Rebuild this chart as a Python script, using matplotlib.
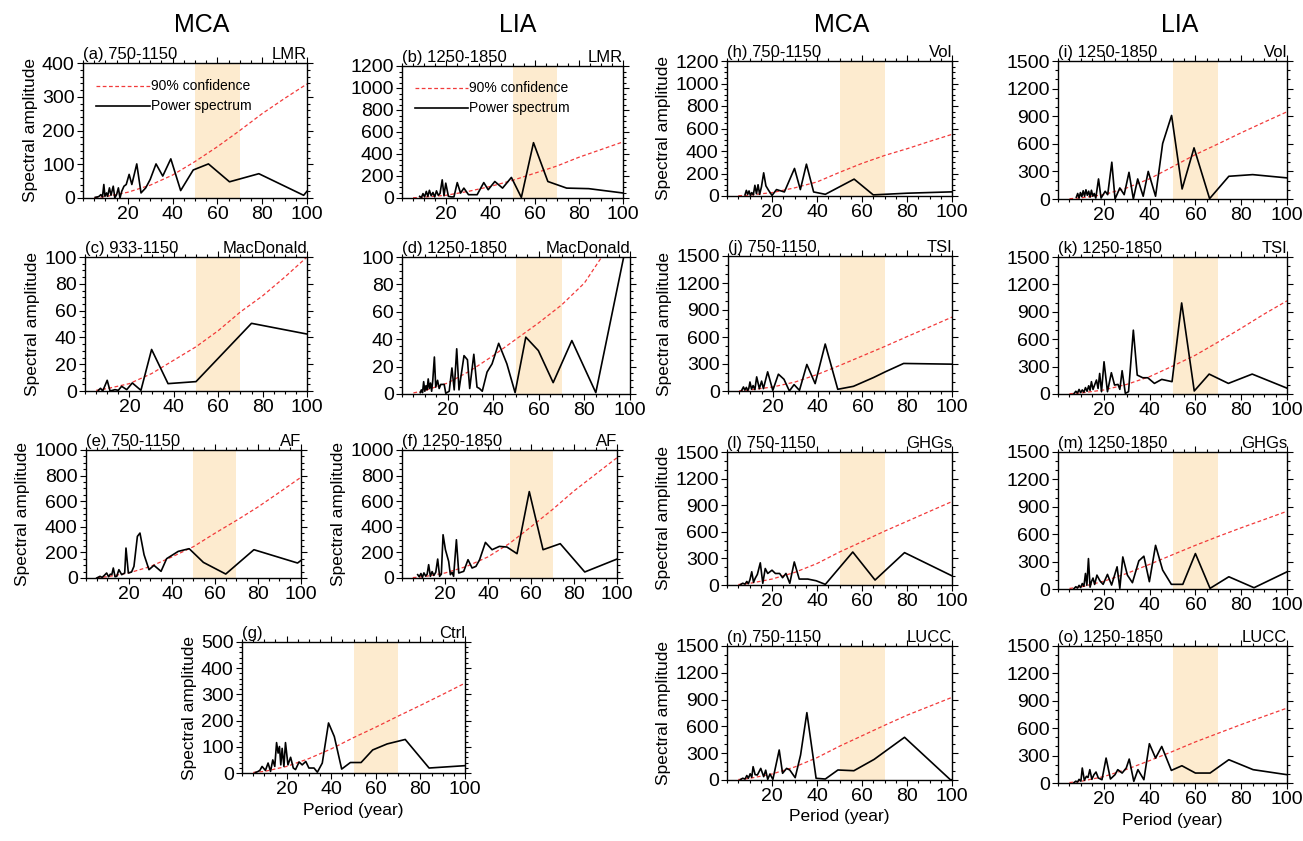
import matplotlib
matplotlib.use("Agg")
import matplotlib.pyplot as plt
from matplotlib.ticker import MultipleLocator

plt.rcParams['font.family'] = ['Liberation Sans', 'DejaVu Sans']

# periods (years) at which the 90% confidence curves are read
conf_per = [5, 10, 20, 30, 40, 50, 60, 70, 80, 90, 100]

# (a) LMR, MCA 750-1150
per_a = [5.5, 7.0, 8.0, 8.7, 9.3, 9.8, 10.5, 11.0, 11.8, 12.5, 13.5, 14.2, 15.0, 15.8, 16.5, 17.3, 18.3,
         19.3, 20.6, 21.8, 24.0, 25.9, 28.0, 30.0, 32.6, 35.6, 39.2, 43.6, 49.2, 56.0, 65.4, 78.5, 98.5, 101.0]
amp_a = [2, 4, 10, 3, 40, 5, 15, 5, 30, 8, 35, 0, 10, 30, 0, 20, 35,
         40, 70, 40, 101, 15, 30, 55, 101, 65, 116, 22, 83, 101, 48, 72, 8, 28]
conf_a = [1, 4, 17, 38, 68, 108, 152, 200, 250, 295, 338]

# (b) LMR, LIA 1250-1850
per_b = [8.0, 8.8, 9.5, 10.2, 11.0, 11.7, 12.4, 13.2, 14.0, 14.8, 15.6, 16.4, 17.2, 18.2, 19.0, 19.8, 21.0,
         22.3, 23.5, 25.0, 26.5, 28.0, 30.1, 34.0, 37.0, 39.0, 42.0, 45.5, 49.5, 54.0, 59.5, 66.0, 74.5, 84.5, 100.2]
amp_b = [15, 5, 40, 10, 60, 15, 70, 20, 50, 10, 65, 25, 40, 165, 20, 135, 15,
         10, 10, 140, 45, 90, 30, 30, 140, 75, 150, 90, 187, 5, 503, 150, 90, 85, 45]
conf_b = [2, 8, 25, 60, 105, 160, 225, 290, 370, 440, 510]

# (c) MacDonald, MCA 933-1150
per_c = [6.0, 7.0, 8.0, 10.0, 11.3, 13.5, 15.0, 16.5, 18.8, 21.3, 25.2, 30.0, 37.4, 50.0, 75.0, 100.0]
amp_c = [0.5, 2, 0, 8, 0, 1, 0.5, 3.5, 1, 6, 0.5, 31, 5.5, 7, 50.5, 42.5]
conf_c = [0.5, 1.8, 5.5, 13, 23, 33, 45, 59, 71, 85, 100]

# (d) MacDonald, LIA 1250-1850
per_d = [8.0, 8.5, 9.0, 9.5, 10.0, 10.5, 11.0, 11.5, 12.0, 12.5, 13.0, 13.5, 14.2, 14.8, 15.6, 16.3, 17.0,
         18.5, 19.2, 20.7, 21.9, 22.9, 24.0, 25.0, 27.2, 28.7, 29.7, 31.5, 32.9, 34.0, 35.2, 37.3, 39.5,
         42.4, 46.0, 49.6, 54.3, 59.8, 66.3, 74.5, 85.0, 100.2]
amp_d = [1, 3, 1, 9, 2, 6, 3, 11, 4, 8, 2, 10, 27, 5, 10, 4, 7,
         7, 0.5, 2, 19, 3, 33, 3, 28, 25, 4, 29, 5, 4, 2, 16, 22,
         37, 22, 1, 41.5, 31.7, 8.3, 39, 1, 124]
conf_d = [0.8, 2.5, 8, 17, 28, 40, 52, 65, 81, 106, 140]

# (e) AF, MCA 750-1150
per_e = [5.0, 6.5, 7.5, 8.5, 9.6, 10.5, 11.3, 12.0, 12.7, 13.5, 14.3, 15.3, 16.6, 18.0, 18.6, 19.7,
         21.2, 22.3, 23.9, 25.1, 27.0, 29.3, 31.6, 34.9, 37.5, 42.9, 48.0, 54.6, 65.0, 78.1, 98.4, 101.0]
amp_e = [0, 13, 5, 20, 39, 10, 30, 26, 78, 10, 13, 65, 26, 39, 234, 39,
         47, 91, 325, 351, 182, 65, 99, 52, 151, 208, 229, 122, 31, 221, 117, 150]
conf_e = [3, 10, 40, 90, 165, 245, 350, 450, 555, 670, 787]

# (f) AF, LIA 1250-1850
per_f = [7.3, 8.0, 8.8, 9.5, 10.2, 11.0, 11.7, 12.4, 13.2, 14.0, 14.8, 15.7, 16.6, 17.5, 18.3, 19.1,
         20.2, 21.7, 22.5, 23.3, 24.0, 25.3, 26.4, 28.7, 30.7, 32.6, 34.4, 36.1, 38.8, 41.9, 45.3,
         48.8, 53.5, 59.2, 65.6, 73.6, 85.0, 100.0]
amp_f = [26, 10, 35, 5, 40, 15, 30, 104, 13, 50, 20, 45, 148, 13, 30, 338,
         221, 130, 26, 44, 13, 299, 39, 52, 143, 78, 91, 143, 278, 221, 247,
         242, 190, 675, 221, 268, 47, 148]
conf_f = [3, 10, 39, 90, 165, 270, 400, 535, 680, 810, 940]

# (g) Ctrl
per_g = [6.0, 7.0, 8.0, 9.0, 10.5, 11.7, 12.8, 13.8, 14.7, 15.5, 16.2, 16.8, 17.4, 18.0, 18.8, 19.5,
         20.6, 21.8, 23.0, 24.0, 25.6, 27.0, 28.6, 30.0, 32.3, 33.8, 36.0, 38.8, 41.4, 44.7, 48.6,
         53.4, 58.6, 65.1, 73.2, 83.9, 100.0]
amp_g = [2, 5, 10, 25, 10, 38, 6, 50, 25, 116, 76, 101, 31, 94, 25, 116,
         31, 60, 19, 13, 42, 31, 44, 19, 19, 3, 38, 191, 139, 15, 40,
         40, 88, 111, 128, 19, 28]
conf_g = [2, 6, 25, 55, 92, 135, 175, 217, 258, 300, 343]

# (h) Vol, MCA 750-1150
per_h = [8.0, 8.6, 9.2, 9.8, 10.4, 11.0, 11.7, 12.4, 13.1, 13.8, 14.5, 15.3, 16.3, 17.3, 18.5, 20.0,
         22.0, 25.5, 30.0, 32.6, 35.3, 38.5, 43.7, 56.5, 65.0, 80.2, 100.25]
amp_h = [10, 50, 15, 45, 5, 30, 10, 95, 20, 100, 15, 80, 206, 90, 50, 5,
         57, 36, 245, 57, 283, 36, 15, 150, 10, 25, 37]
conf_h = [2, 8, 30, 72, 125, 210, 290, 360, 420, 485, 548]

# (i) Vol, LIA 1250-1850
per_i = [8.0, 8.6, 9.2, 9.8, 10.4, 11.0, 11.6, 12.2, 12.8, 13.4, 14.0, 14.6, 15.2, 15.8, 16.5, 17.7,
         18.8, 20.6, 21.7, 23.5, 24.9, 27.0, 28.9, 31.0, 32.9, 34.8, 37.2, 39.4, 42.6, 45.7, 49.6,
         54.2, 59.4, 66.2, 74.6, 85.0, 100.2]
amp_i = [20, 60, 10, 70, 25, 90, 30, 100, 40, 85, 20, 95, 30, 60, 10, 218,
         10, 84, 47, 400, 0, 120, 47, 290, 0, 218, 30, 300, 30, 603, 908,
         109, 556, 4, 247, 265, 229]
conf_i = [3, 12, 47, 120, 220, 350, 483, 600, 720, 835, 948]

# (j) TSI, MCA 750-1150
per_j = [6.0, 6.9, 7.5, 8.2, 8.8, 9.3, 9.8, 10.5, 11.2, 12.0, 12.8, 14.0, 15.0, 15.8, 17.7, 20.0,
         22.5, 25.0, 27.4, 29.5, 31.9, 35.2, 38.9, 43.4, 49.0, 56.0, 65.0, 70.2, 78.4, 100.25]
amp_j = [3, 45, 10, 40, 5, 30, 100, 20, 60, 15, 157, 26, 110, 26, 213, 7,
         187, 130, 0, 71, 7, 295, 82, 522, 19, 52, 150, 213, 306, 298]
conf_j = [3, 12, 45, 100, 185, 285, 390, 495, 605, 712, 821]

# (k) TSI, LIA 1250-1850
per_k = [7.0, 7.8, 8.5, 9.2, 9.9, 10.6, 11.3, 12.0, 12.7, 13.4, 14.0, 14.6, 15.3, 16.0, 16.8, 17.5,
         18.2, 19.0, 20.1, 21.6, 23.3, 24.7, 26.2, 27.0, 28.0, 29.4, 30.8, 32.9, 34.6, 37.0, 39.2,
         42.1, 45.3, 49.8, 54.0, 59.5, 66.0, 74.4, 84.8, 100.2]
amp_k = [5, 30, 10, 50, 15, 45, 20, 70, 30, 90, 40, 135, 50, 100, 153, 60,
         225, 25, 353, 25, 233, 98, 105, 51, 255, 7, 25, 699, 207, 178, 178,
         116, 160, 135, 997, 33, 218, 116, 218, 62]
conf_k = [3, 11, 44, 105, 190, 305, 425, 570, 720, 875, 1020]

# (l) GHGs, MCA 750-1150
per_l = [6.0, 7.0, 8.0, 8.8, 9.5, 10.2, 11.0, 11.8, 12.5, 13.5, 14.8, 15.9, 17.0, 18.1, 20.0, 21.5,
         23.4, 24.7, 26.2, 27.9, 29.9, 32.1, 35.9, 39.6, 43.7, 55.9, 65.8, 78.9, 100.25]
amp_l = [5, 20, 10, 40, 15, 60, 149, 30, 74, 120, 250, 19, 186, 130, 167, 130,
         130, 82, 130, 19, 260, 67, 67, 48, 7, 372, 56, 365, 100]
conf_l = [5, 18, 67, 141, 242, 372, 488, 607, 718, 830, 941]

# (m) GHGs, LIA 1250-1850
per_m = [7.0, 7.8, 8.5, 9.2, 9.9, 10.6, 11.3, 12.0, 12.6, 13.3, 14.0, 14.6, 15.3, 16.0, 17.0, 18.3,
         19.7, 21.6, 23.4, 25.8, 27.0, 28.3, 30.3, 32.5, 35.3, 37.5, 39.9, 42.6, 45.7, 49.5, 54.5,
         60.0, 66.4, 74.6, 85.6, 100.0]
amp_m = [5, 25, 10, 40, 15, 60, 30, 170, 40, 333, 20, 80, 120, 50, 152, 90,
         51, 160, 43, 243, 7, 351, 152, 69, 308, 359, 80, 478, 207, 51, 51,
         388, 7, 134, 14, 188]
conf_m = [6, 22, 85, 170, 270, 375, 478, 576, 670, 760, 851]

# (n) LUCC, MCA 750-1150
per_n = [6.0, 7.0, 8.0, 8.8, 9.5, 10.3, 11.0, 11.6, 12.5, 13.5, 15.0, 16.3, 17.2, 18.1, 19.1, 20.4,
         23.2, 24.7, 26.5, 27.9, 30.3, 32.7, 35.5, 39.6, 43.7, 49.3, 56.4, 65.4, 78.9, 99.4, 101.0]
amp_n = [5, 20, 10, 50, 20, 70, 30, 149, 60, 56, 130, 37, 110, 7, 67, 7,
         336, 75, 130, 112, 26, 280, 754, 19, 11, 112, 104, 231, 478, 0, 10]
conf_n = [5, 18, 67, 145, 250, 378, 495, 612, 725, 825, 925]

# (o) LUCC, LIA 1250-1850
per_o = [7.0, 7.8, 8.5, 9.2, 10.0, 10.6, 11.5, 12.4, 13.1, 13.9, 14.8, 15.7, 16.6, 17.6, 19.2, 21.0,
         22.9, 24.9, 26.1, 28.0, 29.8, 31.1, 33.1, 34.9, 37.5, 39.9, 42.6, 45.3, 49.5, 54.1, 60.0,
         66.4, 74.6, 85.2, 100.0]
amp_o = [5, 20, 10, 40, 20, 164, 30, 73, 60, 146, 40, 91, 120, 55, 36, 273,
         44, 91, 146, 109, 164, 262, 18, 146, 36, 430, 273, 400, 138, 189, 109,
         109, 255, 146, 91]
conf_o = [5, 18, 70, 150, 245, 345, 450, 545, 640, 730, 820]

W, H = 1303, 841
fig = plt.figure(figsize=(W / 100, H / 100), dpi=100)


def add_box(l, t, r, b):
    return fig.add_axes([l / W, 1 - b / H, (r - l) / W, (b - t) / H])


# title, model, periods, amplitudes, confidence, ymax, ystep, yminor, box (px), ylabel, xlabel, legend
panels = [
    ("(a) 750-1150", "LMR", per_a, amp_a, conf_a, 400, 100, 20, (83, 63, 307, 198), True, False, True),
    ("(b) 1250-1850", "LMR", per_b, amp_b, conf_b, 1200, 200, 50, (402, 66, 623, 198), False, False, True),
    ("(h) 750-1150", "Vol", per_h, amp_h, conf_h, 1200, 200, 50, (727, 61, 952, 196), True, False, False),
    ("(i) 1250-1850", "Vol", per_i, amp_i, conf_i, 1500, 300, 100, (1058, 61, 1287, 199), False, False, False),
    ("(c) 933-1150", "MacDonald", per_c, amp_c, conf_c, 100, 20, 5, (85, 257, 307, 391), True, False, False),
    ("(d) 1250-1850", "MacDonald", per_d, amp_d, conf_d, 100, 20, 5, (402, 257, 630, 394), False, False, False),
    ("(j) 750-1150", "TSI", per_j, amp_j, conf_j, 1500, 300, 100, (728, 256, 952, 391), True, False, False),
    ("(k) 1250-1850", "TSI", per_k, amp_k, conf_k, 1500, 300, 100, (1058, 257, 1287, 394), False, False, False),
    ("(e) 750-1150", "AF", per_e, amp_e, conf_e, 1000, 200, 50, (86, 450, 301, 578), True, False, False),
    ("(f) 1250-1850", "AF", per_f, amp_f, conf_f, 1000, 200, 50, (402, 450, 617, 578), True, False, False),
    ("(l) 750-1150", "GHGs", per_l, amp_l, conf_l, 1500, 300, 100, (727, 452, 952, 585), True, False, False),
    ("(m) 1250-1850", "GHGs", per_m, amp_m, conf_m, 1500, 300, 100, (1058, 452, 1287, 589), False, False, False),
    ("(g)", "Ctrl", per_g, amp_g, conf_g, 500, 100, 20, (242, 642, 465, 773), True, True, False),
    ("(n) 750-1150", "LUCC", per_n, amp_n, conf_n, 1500, 300, 100, (727, 646, 952, 780), True, True, False),
    ("(o) 1250-1850", "LUCC", per_o, amp_o, conf_o, 1500, 300, 100, (1058, 646, 1287, 783), False, True, False),
]

for title, model, per, amp, conf, ymax, ystep, yminor, box, ylab, xlab, leg in panels:
    ax = add_box(*box)
    ax.axvspan(50, 70, color='#fdebcf', lw=0, zorder=0)
    ax.plot(conf_per, conf, color='#f23a3a', lw=0.9, ls=(0, (3, 2)), zorder=2)
    ax.plot(per, amp, color='black', lw=1.2, zorder=3)
    ax.set_xlim(0, 100)
    ax.set_ylim(0, ymax)
    ax.set_xticks([20, 40, 60, 80, 100])
    ax.xaxis.set_minor_locator(MultipleLocator(5))
    ax.yaxis.set_major_locator(MultipleLocator(ystep))
    ax.yaxis.set_minor_locator(MultipleLocator(yminor))
    ax.tick_params(which='both', direction='out', top=True, right=True, width=0.8, labelsize=14, pad=2)
    ax.tick_params(which='major', length=4)
    ax.tick_params(which='minor', length=2.5)
    for s in ax.spines.values():
        s.set_linewidth(1.0)
    ax.set_title(title, loc='left', fontsize=12, pad=3)
    ax.set_title(model, loc='right', fontsize=12, pad=3)
    if ylab:
        ax.set_ylabel('Spectral amplitude', fontsize=12.5, labelpad=3)
    if xlab:
        ax.set_xlabel('Period (year)', fontsize=12.5, labelpad=3)
    if leg:
        ax.plot([0.06, 0.30], [0.83, 0.83], transform=ax.transAxes, color='#f23a3a', lw=0.9, ls=(0, (3, 2)))
        ax.plot([0.06, 0.30], [0.68, 0.68], transform=ax.transAxes, color='black', lw=1.2)
        ax.text(0.305, 0.83, '90% confidence', transform=ax.transAxes, fontsize=10, va='center', ha='left')
        ax.text(0.305, 0.68, 'Power spectrum', transform=ax.transAxes, fontsize=10, va='center', ha='left')

for x, txt in [(202, 'MCA'), (518, 'LIA'), (842, 'MCA'), (1180, 'LIA')]:
    fig.text(x / W, 1 - 25 / H, txt, fontsize=18, ha='center', va='center')

fig.savefig('out.png', dpi=100)
